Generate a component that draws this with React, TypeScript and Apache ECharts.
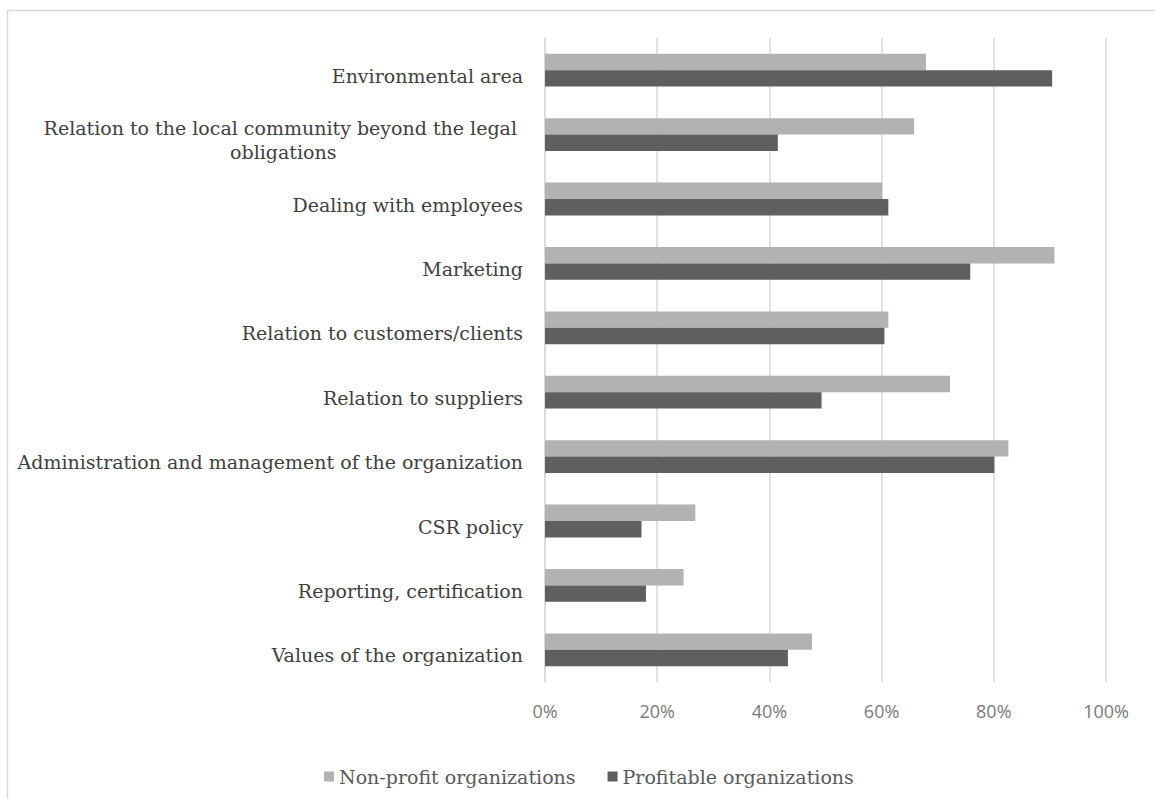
import React, { useEffect, useRef } from "react";
import * as echarts from "echarts";

// Areas of CSR activity, listed top to bottom
const categories = [
  "Environmental area",
  "Relation to the local community beyond the legal \nobligations",
  "Dealing with employees",
  "Marketing",
  "Relation to customers/clients",
  "Relation to suppliers",
  "Administration and management of the organization",
  "CSR policy",
  "Reporting, certification",
  "Values of the organization",
];

// Share of organizations (%)
const nonProfit = [67.9, 65.8, 60.1, 90.8, 61.2, 72.2, 82.6, 26.8, 24.7, 47.6];
const profitable = [90.4, 41.5, 61.2, 75.8, 60.5, 49.3, 80.1, 17.2, 18.0, 43.3];

const seriesNames = ["Non-profit organizations", "Profitable organizations"];
const xTicks = { min: 0, max: 100, interval: 20 };

const SERIF = "'DejaVu Serif', 'Liberation Serif', serif";
const SANS = "'Open Sans', 'Liberation Sans', sans-serif";

export default function App() {
  const ref = useRef<HTMLDivElement>(null);

  useEffect(() => {
    if (!ref.current) return;
    const chart = echarts.init(ref.current, undefined, { renderer: "svg" });
    chart.setOption({
      animation: false,
      backgroundColor: "#ffffff",
      graphic: [
        {
          type: "rect",
          shape: { x: 7.5, y: 10.5, width: 1400, height: 1000 },
          style: { fill: "none", stroke: "#d9d9d9", lineWidth: 1.5 },
          silent: true,
        },
      ],
      grid: { left: 545, right: 49, top: 38, bottom: 117, containLabel: false },
      legend: {
        left: 319,
        top: 762,
        icon: "rect",
        itemWidth: 10,
        itemHeight: 10,
        itemGap: 32,
        textStyle: { fontFamily: SERIF, fontSize: 19, color: "#595959" },
        data: seriesNames,
      },
      xAxis: {
        type: "value",
        min: xTicks.min,
        max: xTicks.max,
        interval: xTicks.interval,
        axisLine: { show: false },
        axisTick: { show: false },
        splitLine: { lineStyle: { color: "#d9d9d9", width: 1.5 } },
        axisLabel: {
          formatter: "{value}%",
          fontFamily: SANS,
          fontSize: 18,
          color: "#7a7a7a",
          margin: 20,
        },
      },
      yAxis: {
        type: "category",
        inverse: true,
        data: categories,
        axisLine: { show: true, lineStyle: { color: "#d9d9d9", width: 1.5 } },
        axisTick: { show: false },
        axisLabel: {
          fontFamily: SERIF,
          fontSize: 19,
          color: "#404040",
          margin: 22,
          lineHeight: 24,
          align: "right",
          padding: [11, 0, 0, 0],
          // multi-line labels are centred line by line
          formatter: (v: string) =>
            v.includes("\n")
              ? v
                  .split("\n")
                  .map((line) => `{c|${line}}`)
                  .join("\n")
              : v,
          rich: {
            c: {
              align: "center",
              fontFamily: SERIF,
              fontSize: 19,
              color: "#404040",
              lineHeight: 24,
            },
          },
        },
      },
      series: [
        {
          name: seriesNames[0],
          type: "bar",
          data: nonProfit,
          itemStyle: { color: "#b2b2b2" },
          barGap: "0%",
          barCategoryGap: "49%",
        },
        {
          name: seriesNames[1],
          type: "bar",
          data: profitable,
          itemStyle: { color: "#5f5f5f" },
          barGap: "0%",
          barCategoryGap: "49%",
        },
      ],
    });
    return () => chart.dispose();
  }, []);

  return (
    <div
      ref={ref}
      style={{ position: "fixed", left: 0, top: 0, width: 1155, height: 799 }}
    />
  );
}
